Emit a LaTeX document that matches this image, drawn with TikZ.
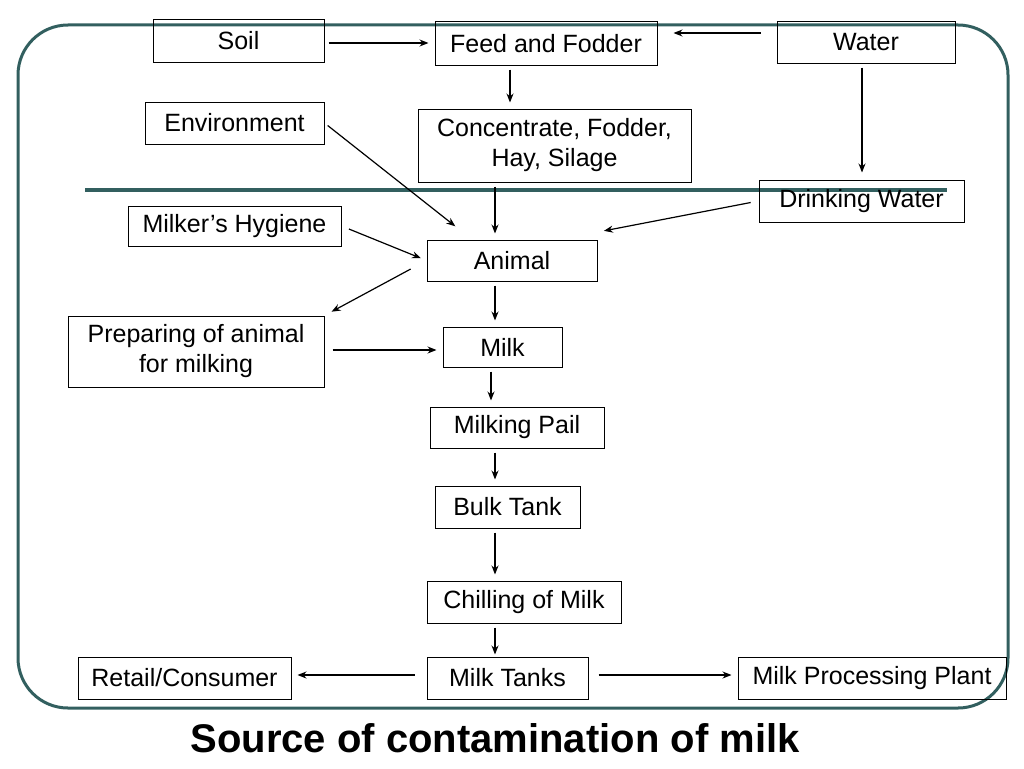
\documentclass[tikz,border=0pt]{standalone}
\usepackage{fontspec}
\setmainfont{Liberation Sans}
\usetikzlibrary{arrows.meta}
\begin{document}
\begin{tikzpicture}[x=1pt,y=-1pt,
 box/.style={draw,line width=1pt,inner sep=0pt,align=center,font=\fontsize{25}{30}\selectfont},
 arr/.style={-{Stealth[length=9pt,width=7pt]},line width=1.2pt,shorten <=4pt,shorten >=6pt}]
\useasboundingbox (0,0) rectangle (1024,768);
\definecolor{frame}{RGB}{50,95,95}
\draw[frame,line width=3pt,rounded corners=50pt] (18,25) rectangle (1008,708);
\draw[frame,line width=4pt] (85,190) -- (947,190);
\newcommand\bx[6]{\node[box,minimum width=#4-#2,minimum height=#5-#3] (#1) at ({(#2+#4)/2},{(#3+#5)/2}) {#6};}
\bx{soil}{153}{20}{324}{62}{Soil}
\bx{feed}{435}{22}{657}{65}{Feed and Fodder}
\bx{water}{777}{22}{955}{63}{Water}
\bx{env}{145}{102}{324}{144}{Environment}
\bx{conc}{418}{109}{691}{182}{Concentrate, Fodder,\\Hay, Silage}
\bx{drink}{759}{180}{964}{222}{Drinking Water}
\bx{hyg}{128}{206}{341}{246}{Milker’s Hygiene}
\bx{animal}{427}{240}{597}{281}{Animal}
\bx{prep}{68}{316}{324}{387}{Preparing of animal\\for milking}
\bx{milk}{443}{327}{562}{367}{Milk}
\bx{pail}{430}{407}{604}{448}{Milking Pail}
\bx{bulk}{435}{486}{580}{528}{Bulk Tank}
\bx{chill}{427}{581}{621}{623}{Chilling of Milk}
\bx{tanks}{427}{657}{588}{699}{Milk Tanks}
\bx{retail}{78}{657}{291}{699}{Retail/Consumer}
\bx{plant}{738}{657}{1006}{699}{Milk Processing Plant}
\node[font=\fontsize{40}{44}\selectfont\bfseries] (title) at (495,738) {Source of contamination of milk};
\draw[arr] (soil.east|-0,43) -- (feed.west|-0,43);
\draw[arr,shorten <=16pt,shorten >=16pt] (water.west|-0,33) -- (feed.east|-0,33);
\draw[arr] (feed.south-|510,0) -- (conc.north-|510,0);
\draw[arr,shorten >=7pt] (water.south-|862,0) -- (drink.north-|862,0);
\draw[arr] (env.east) -- (460,230);
\draw[arr] (conc.south-|495,0) -- (animal.north-|495,0);
\draw[arr,shorten <=8pt] (drink.west) -- (598,232);
\draw[arr,shorten <=8pt] (hyg.east) -- (animal.west);
\draw[arr,shorten <=18pt,shorten >=8pt] (animal.west) -- (prep.north east);
\draw[arr,shorten <=8pt] (prep.east|-0,350) -- (milk.west|-0,350);
\draw[arr] (animal.south-|495,0) -- (milk.north-|495,0);
\draw[arr] (milk.south-|491,0) -- (pail.north-|491,0);
\draw[arr] (pail.south-|495,0) -- (bulk.north-|495,0);
\draw[arr] (bulk.south-|495,0) -- (chill.north-|495,0);
\draw[arr,shorten >=2pt] (chill.south-|495,0) -- (tanks.north-|495,0);
\draw[arr,shorten <=12pt] (tanks.west|-0,675) -- (retail.east|-0,675);
\draw[arr,shorten <=10pt] (tanks.east|-0,675) -- (plant.west|-0,675);
\end{tikzpicture}
\end{document}
